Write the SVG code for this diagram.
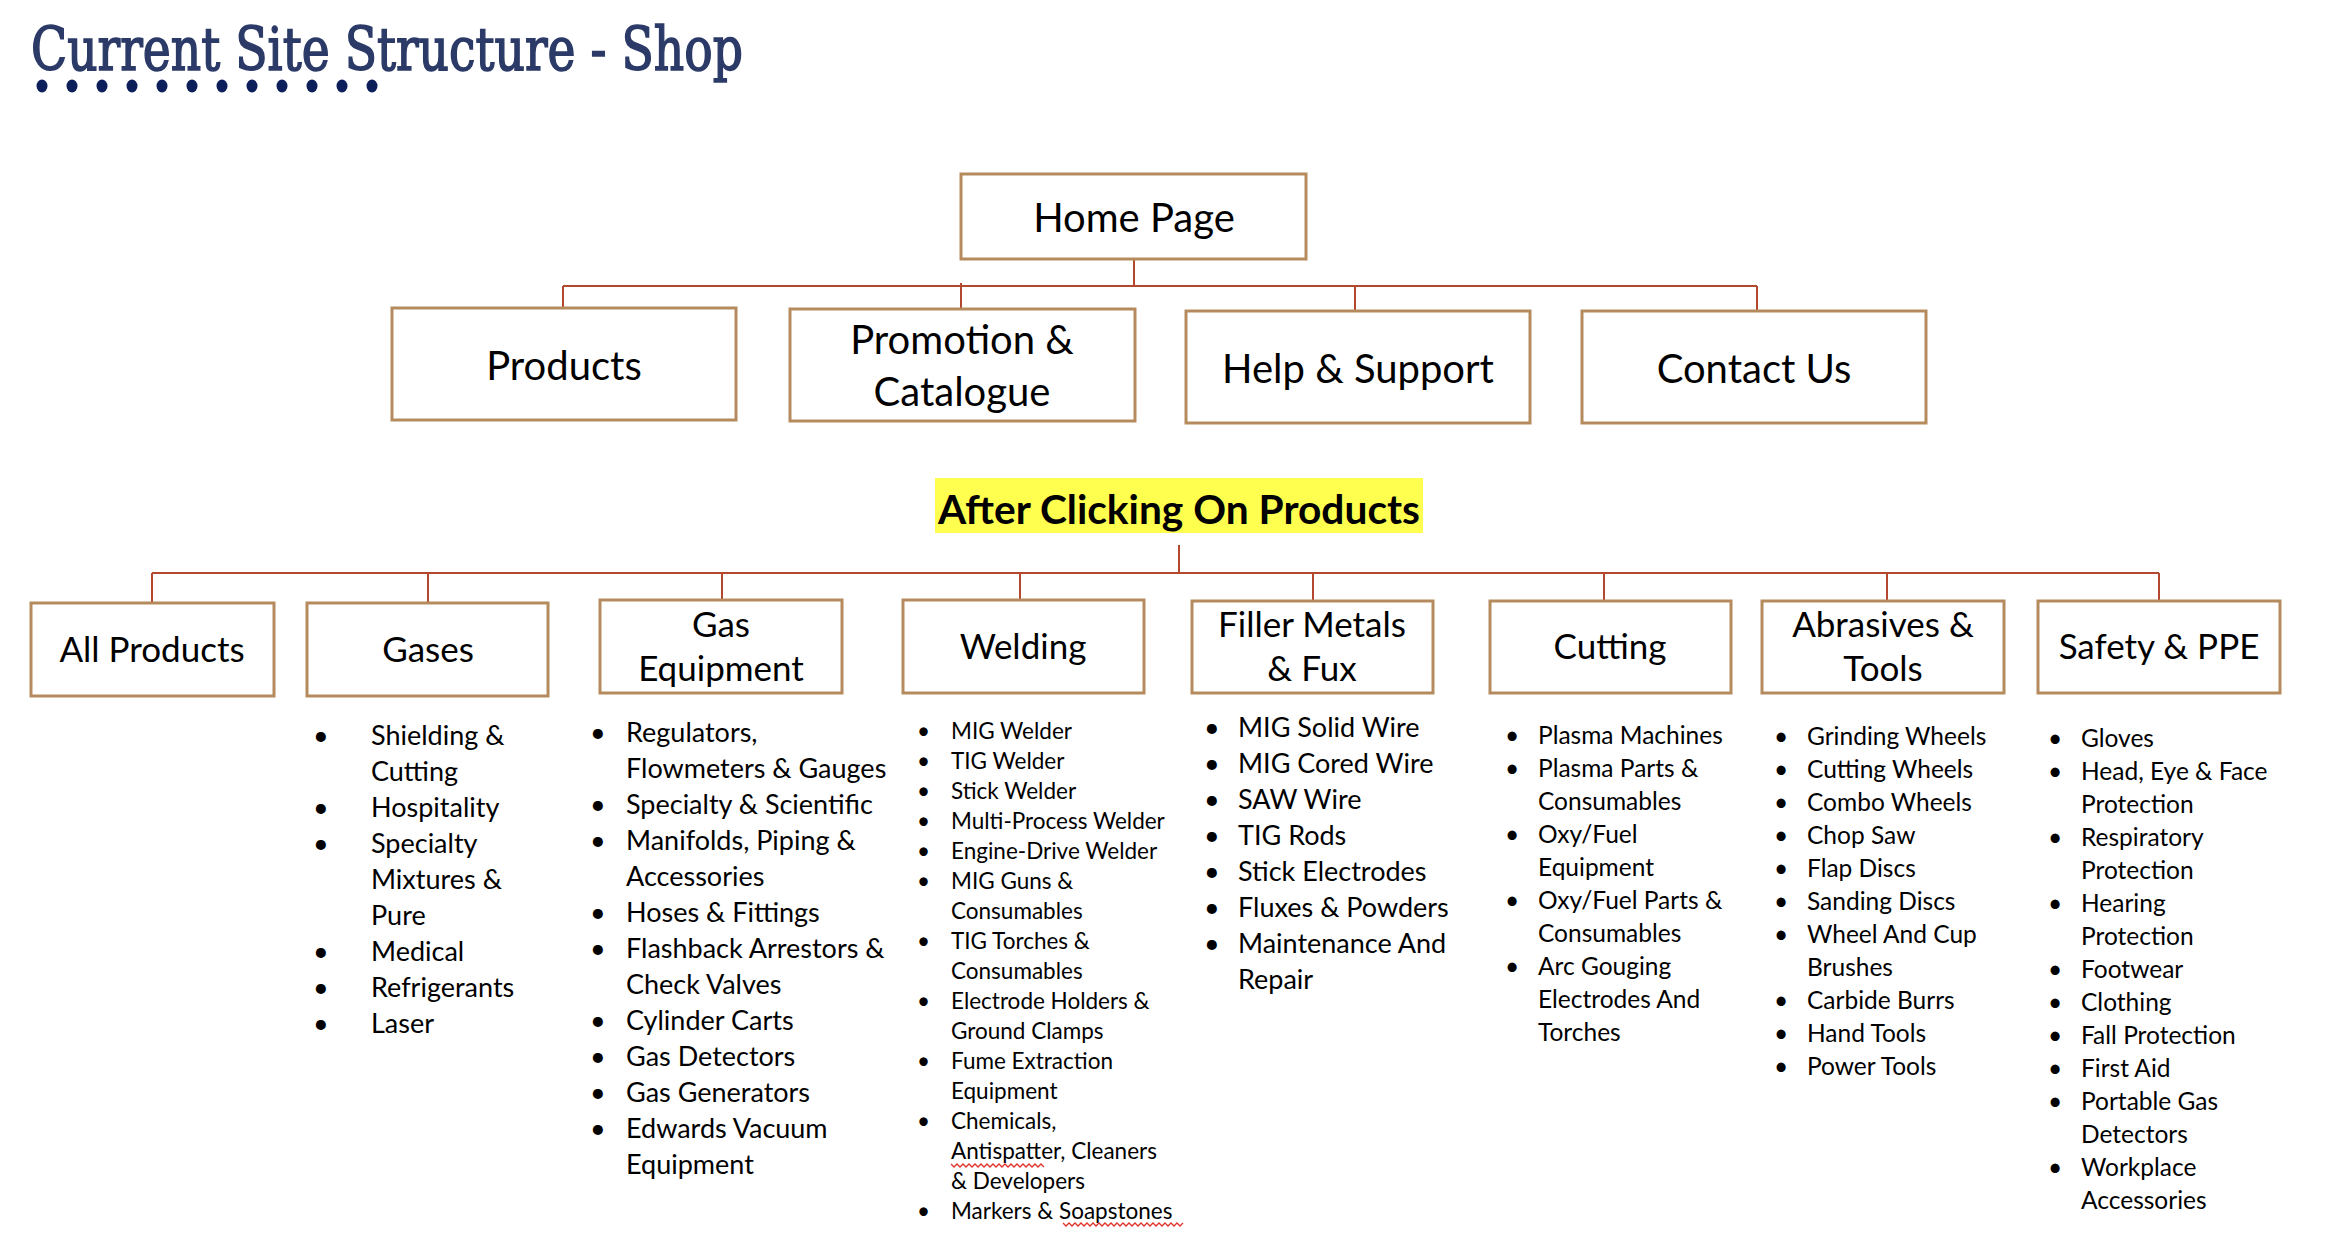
<svg xmlns="http://www.w3.org/2000/svg" width="2336" height="1236" viewBox="0 0 2336 1236">
<style>
.box{fill:#ffffff;stroke:#b58b5e;stroke-width:3}
.conn{fill:none;stroke:#b3482f;stroke-width:2}
.lbl{font-family:Lato,"Open Sans",sans-serif;fill:#000;text-anchor:middle}
.l1{font-size:40px}
.l2{font-size:35px}
.li{font-family:Lato,"Open Sans",sans-serif;fill:#000}
.s27{font-size:27px}
.s245{font-size:24.5px}
.s225{font-size:22.5px}
.sq{fill:none;stroke:#e0312a;stroke-width:1.3}
.dot{fill:#0d1f5a}
</style>
<rect width="2336" height="1236" fill="#ffffff"/>

<g id="title">
<text x="31" y="70" font-family="'DejaVu Serif',serif" font-size="59" fill="#2b3a67" stroke="#2b3a67" stroke-width="1.6" textLength="712" lengthAdjust="spacingAndGlyphs">Current Site Structure - Shop</text>
<g class="dot">
<ellipse cx="42" cy="86" rx="5.5" ry="6.5"/><ellipse cx="72" cy="86" rx="5.5" ry="6.5"/><ellipse cx="102" cy="86" rx="5.5" ry="6.5"/><ellipse cx="132" cy="86" rx="5.5" ry="6.5"/><ellipse cx="162" cy="86" rx="5.5" ry="6.5"/><ellipse cx="192" cy="86" rx="5.5" ry="6.5"/><ellipse cx="222" cy="86" rx="5.5" ry="6.5"/><ellipse cx="252" cy="86" rx="5.5" ry="6.5"/><ellipse cx="282" cy="86" rx="5.5" ry="6.5"/><ellipse cx="312" cy="86" rx="5.5" ry="6.5"/><ellipse cx="342" cy="86" rx="5.5" ry="6.5"/><ellipse cx="372" cy="86" rx="5.5" ry="6.5"/>
</g>
</g>

<g id="connectors">
<path class="conn" d="M1134 259 V286 M563 286 H1757 M563 286 V308 M961 283 V309 M1355 286 V311 M1757 286 V311"/>
<path class="conn" d="M1179 545 V573 M152 573 H2159 M152 573 V603 M428 573 V603 M722 573 V600 M1020 573 V600 M1313 573 V601 M1604 573 V601 M1887 573 V601 M2159 573 V601"/>
</g>

<g id="home"><rect class="box" x="961" y="174" width="345" height="85"/><text class="lbl l1" x="1134" y="232">Home Page</text></g>
<g id="products"><rect class="box" x="392" y="308" width="344" height="112"/><text class="lbl l1" x="564" y="380">Products</text></g>
<g id="promotion"><rect class="box" x="790" y="309" width="345" height="112"/><text class="lbl l1" x="962" y="354">Promotion &amp;</text><text class="lbl l1" x="962" y="406">Catalogue</text></g>
<g id="help"><rect class="box" x="1186" y="311" width="344" height="112"/><text class="lbl l1" x="1358" y="383">Help &amp; Support</text></g>
<g id="contact"><rect class="box" x="1582" y="311" width="344" height="112"/><text class="lbl l1" x="1754" y="383">Contact Us</text></g>

<g id="after-clicking">
<rect x="935" y="478" width="488" height="55" fill="#ffff4f"/>
<text class="lbl" x="1179" y="524" font-size="40" font-weight="bold" textLength="482" lengthAdjust="spacingAndGlyphs">After Clicking On Products</text>
</g>

<g id="all-products"><rect class="box" x="31" y="603" width="243" height="93"/><text class="lbl l2" x="152" y="662">All Products</text></g>
<g id="gases"><rect class="box" x="307" y="603" width="241" height="93"/><text class="lbl l2" x="428" y="662">Gases</text></g>
<g id="gas-equipment"><rect class="box" x="600" y="600" width="242" height="93"/><text class="lbl l2" x="721" y="637">Gas</text><text class="lbl l2" x="721" y="681">Equipment</text></g>
<g id="welding"><rect class="box" x="903" y="600" width="241" height="93"/><text class="lbl l2" x="1023" y="659">Welding</text></g>
<g id="filler-metals"><rect class="box" x="1192" y="601" width="241" height="92"/><text class="lbl l2" x="1312" y="637">Filler Metals</text><text class="lbl l2" x="1312" y="681">&amp; Fux</text></g>
<g id="cutting"><rect class="box" x="1490" y="601" width="241" height="92"/><text class="lbl l2" x="1610" y="659">Cutting</text></g>
<g id="abrasives"><rect class="box" x="1762" y="601" width="242" height="92"/><text class="lbl l2" x="1883" y="637">Abrasives &amp;</text><text class="lbl l2" x="1883" y="681">Tools</text></g>
<g id="safety"><rect class="box" x="2038" y="601" width="242" height="92"/><text class="lbl l2" x="2159" y="659">Safety &amp; PPE</text></g>

<g id="gases-list" class="li s27">
<text x="313" y="745">•</text><text x="371" y="745">Shielding &amp;</text>
<text x="371" y="781">Cutting</text>
<text x="313" y="817">•</text><text x="371" y="817">Hospitality</text>
<text x="313" y="853">•</text><text x="371" y="853">Specialty</text>
<text x="371" y="889">Mixtures &amp;</text>
<text x="371" y="925">Pure</text>
<text x="313" y="961">•</text><text x="371" y="961">Medical</text>
<text x="313" y="997">•</text><text x="371" y="997">Refrigerants</text>
<text x="313" y="1033">•</text><text x="371" y="1033">Laser</text>
</g>

<g id="gas-equipment-list" class="li s27">
<text x="590" y="742">•</text><text x="626" y="742">Regulators,</text>
<text x="626" y="778">Flowmeters &amp; Gauges</text>
<text x="590" y="814">•</text><text x="626" y="814">Specialty &amp; Scientific</text>
<text x="590" y="850">•</text><text x="626" y="850">Manifolds, Piping &amp;</text>
<text x="626" y="886">Accessories</text>
<text x="590" y="922">•</text><text x="626" y="922">Hoses &amp; Fittings</text>
<text x="590" y="958">•</text><text x="626" y="958">Flashback Arrestors &amp;</text>
<text x="626" y="994">Check Valves</text>
<text x="590" y="1030">•</text><text x="626" y="1030">Cylinder Carts</text>
<text x="590" y="1066">•</text><text x="626" y="1066">Gas Detectors</text>
<text x="590" y="1102">•</text><text x="626" y="1102">Gas Generators</text>
<text x="590" y="1138">•</text><text x="626" y="1138">Edwards Vacuum</text>
<text x="626" y="1174">Equipment</text>
</g>

<g id="welding-list" class="li s225">
<text x="917" y="739">•</text><text x="951" y="739">MIG Welder</text>
<text x="917" y="769">•</text><text x="951" y="769">TIG Welder</text>
<text x="917" y="799">•</text><text x="951" y="799">Stick Welder</text>
<text x="917" y="829">•</text><text x="951" y="829">Multi-Process Welder</text>
<text x="917" y="859">•</text><text x="951" y="859">Engine-Drive Welder</text>
<text x="917" y="889">•</text><text x="951" y="889">MIG Guns &amp;</text>
<text x="951" y="919">Consumables</text>
<text x="917" y="949">•</text><text x="951" y="949">TIG Torches &amp;</text>
<text x="951" y="979">Consumables</text>
<text x="917" y="1009">•</text><text x="951" y="1009">Electrode Holders &amp;</text>
<text x="951" y="1039">Ground Clamps</text>
<text x="917" y="1069">•</text><text x="951" y="1069">Fume Extraction</text>
<text x="951" y="1099">Equipment</text>
<text x="917" y="1129">•</text><text x="951" y="1129">Chemicals,</text>
<text x="951" y="1159">Antispatter, Cleaners</text>
<text x="951" y="1189">&amp; Developers</text>
<text x="917" y="1219">•</text><text x="951" y="1219">Markers &amp; Soapstones</text>
<path class="sq" d="M951 1164 l3 3 l3 -3 l3 3 l3 -3 l3 3 l3 -3 l3 3 l3 -3 l3 3 l3 -3 l3 3 l3 -3 l3 3 l3 -3 l3 3 l3 -3 l3 3 l3 -3 l3 3 l3 -3 l3 3 l3 -3 l3 3 l3 -3 l3 3 l3 -3 l3 3 l3 -3 l3 3 l3 -3 l3 3"/>
<path class="sq" d="M1063 1223 l3 3 l3 -3 l3 3 l3 -3 l3 3 l3 -3 l3 3 l3 -3 l3 3 l3 -3 l3 3 l3 -3 l3 3 l3 -3 l3 3 l3 -3 l3 3 l3 -3 l3 3 l3 -3 l3 3 l3 -3 l3 3 l3 -3 l3 3 l3 -3 l3 3 l3 -3 l3 3 l3 -3 l3 3 l3 -3 l3 3 l3 -3 l3 3 l3 -3 l3 3 l3 -3 l3 3 l3 -3"/>
</g>

<g id="filler-list" class="li s27">
<text x="1204" y="737">•</text><text x="1238" y="737">MIG Solid Wire</text>
<text x="1204" y="773">•</text><text x="1238" y="773">MIG Cored Wire</text>
<text x="1204" y="809">•</text><text x="1238" y="809">SAW Wire</text>
<text x="1204" y="845">•</text><text x="1238" y="845">TIG Rods</text>
<text x="1204" y="881">•</text><text x="1238" y="881">Stick Electrodes</text>
<text x="1204" y="917">•</text><text x="1238" y="917">Fluxes &amp; Powders</text>
<text x="1204" y="953">•</text><text x="1238" y="953">Maintenance And</text>
<text x="1238" y="989">Repair</text>
</g>

<g id="cutting-list" class="li s245">
<text x="1505" y="744">•</text><text x="1538" y="744">Plasma Machines</text>
<text x="1505" y="777">•</text><text x="1538" y="777">Plasma Parts &amp;</text>
<text x="1538" y="810">Consumables</text>
<text x="1505" y="843">•</text><text x="1538" y="843">Oxy/Fuel</text>
<text x="1538" y="876">Equipment</text>
<text x="1505" y="909">•</text><text x="1538" y="909">Oxy/Fuel Parts &amp;</text>
<text x="1538" y="942">Consumables</text>
<text x="1505" y="975">•</text><text x="1538" y="975">Arc Gouging</text>
<text x="1538" y="1008">Electrodes And</text>
<text x="1538" y="1041">Torches</text>
</g>

<g id="abrasives-list" class="li s245">
<text x="1774" y="745">•</text><text x="1807" y="745">Grinding Wheels</text>
<text x="1774" y="778">•</text><text x="1807" y="778">Cutting Wheels</text>
<text x="1774" y="811">•</text><text x="1807" y="811">Combo Wheels</text>
<text x="1774" y="844">•</text><text x="1807" y="844">Chop Saw</text>
<text x="1774" y="877">•</text><text x="1807" y="877">Flap Discs</text>
<text x="1774" y="910">•</text><text x="1807" y="910">Sanding Discs</text>
<text x="1774" y="943">•</text><text x="1807" y="943">Wheel And Cup</text>
<text x="1807" y="976">Brushes</text>
<text x="1774" y="1009">•</text><text x="1807" y="1009">Carbide Burrs</text>
<text x="1774" y="1042">•</text><text x="1807" y="1042">Hand Tools</text>
<text x="1774" y="1075">•</text><text x="1807" y="1075">Power Tools</text>
</g>

<g id="safety-list" class="li s245">
<text x="2048" y="747">•</text><text x="2081" y="747">Gloves</text>
<text x="2048" y="780">•</text><text x="2081" y="780">Head, Eye &amp; Face</text>
<text x="2081" y="813">Protection</text>
<text x="2048" y="846">•</text><text x="2081" y="846">Respiratory</text>
<text x="2081" y="879">Protection</text>
<text x="2048" y="912">•</text><text x="2081" y="912">Hearing</text>
<text x="2081" y="945">Protection</text>
<text x="2048" y="978">•</text><text x="2081" y="978">Footwear</text>
<text x="2048" y="1011">•</text><text x="2081" y="1011">Clothing</text>
<text x="2048" y="1044">•</text><text x="2081" y="1044">Fall Protection</text>
<text x="2048" y="1077">•</text><text x="2081" y="1077">First Aid</text>
<text x="2048" y="1110">•</text><text x="2081" y="1110">Portable Gas</text>
<text x="2081" y="1143">Detectors</text>
<text x="2048" y="1176">•</text><text x="2081" y="1176">Workplace</text>
<text x="2081" y="1209">Accessories</text>
</g>
</svg>
